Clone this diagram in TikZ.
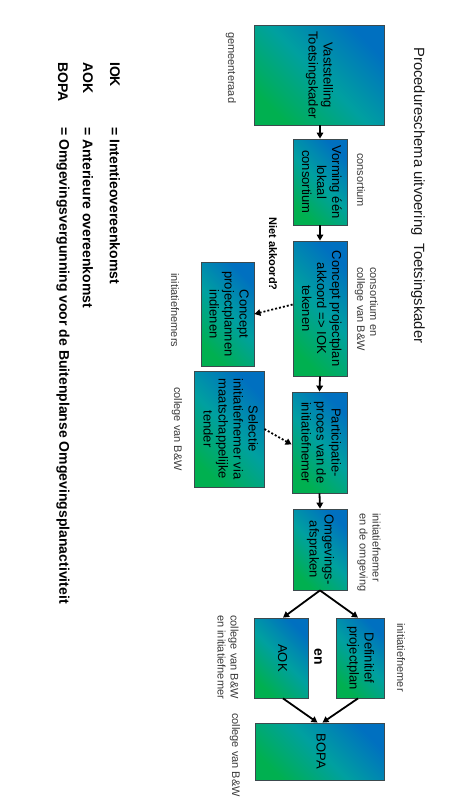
\documentclass[tikz,border=0pt]{standalone}
\usepackage{fontspec}
\setmainfont{Liberation Sans}
\usepackage{graphicx}
\usetikzlibrary{arrows.meta}
\definecolor{gblue}{HTML}{0070C0}
\definecolor{gteal}{HTML}{00A0A0}
\definecolor{ggreen}{HTML}{00B050}
\definecolor{boxline}{HTML}{3C4A4E}
\definecolor{lblc}{HTML}{3A3A3A}
\definecolor{titc}{HTML}{1A1A1A}
\newcommand\rtext[1]{\rotatebox[origin=c]{-90}{\begin{tabular}{@{}c@{}}#1\end{tabular}}}
\tikzset{
  box/.style={draw=boxline, line width=0.8pt, inner sep=0pt,
    top color=gblue, bottom color=ggreen, middle color=gteal, shading angle=-45,
    font=\fontsize{13}{15}\selectfont},
  lbl/.style={rotate=-90, anchor=west, inner sep=0pt, text=lblc, align=left,
    font=\fontsize{11}{13}\selectfont},
  leg/.style={rotate=-90, anchor=west, inner sep=0pt, text=black,
    font=\bfseries\fontsize{14}{16}\selectfont},
  arr/.style={line width=1.8pt, -{Triangle[length=6pt,width=6.5pt]}},
  dotarr/.style={line width=1.8pt, dash pattern=on 2pt off 2pt, -{Triangle[length=6pt,width=6.5pt]}}
}
\begin{document}
\begin{tikzpicture}[x=1pt,y=-1pt]
\useasboundingbox (0,0) rectangle (451,806);
% title
\node[rotate=-90, anchor=west, inner sep=0pt, text=titc, font=\fontsize{14.8}{17}\selectfont] (title) at (418,47) {Procedureschema uitvoering\ \ Toetsingskader};
% boxes
\node[box, minimum width=130pt, minimum height=100pt] (vast) at (319,75) {\rtext{Vaststelling\\Toetsingskader}};
\node[box, minimum width=54pt, minimum height=86pt] (vorm) at (320,182) {\rtext{Vorming één\\lokaal\\consortium}};
\node[box, minimum width=54pt, minimum height=135pt] (conc) at (320,308.5) {\rtext{Concept projectplan\\akkoord => IOK\\tekenen}};
\node[box, minimum width=53pt, minimum height=104pt] (indi) at (227.5,314) {\rtext{Concept\\projectplannen\\indienen}};
\node[box, minimum width=70pt, minimum height=116pt] (sel) at (229,429) {\rtext{Selectie\\initiatiefnemer via\\maatschappelijke\\tender}};
\node[box, minimum width=55pt, minimum height=101pt] (part) at (319.5,442.5) {\rtext{Participatie-\\proces van de\\initiatiefnemer}};
\node[box, minimum width=54pt, minimum height=81pt] (omg) at (320,549.5) {\rtext{Omgevings-\\afspraken}};
\node[box, minimum width=54pt, minimum height=80pt] (aok) at (281,658) {\rtext{AOK}};
\node[box, minimum width=48pt, minimum height=80pt] (def) at (360,658) {\rtext{Definitief\\projectplan}};
\node[box, minimum width=129pt, minimum height=57pt] (bopa) at (319.5,751.5) {\rtext{BOPA}};
% labels
\node[lbl] (l1) at (231,32) {gemeenteraad};
\node[lbl] (l2) at (361,153) {consortium};
\node[lbl] (l3) at (366.5,267) {consortium en\\college van B\&W};
\node[lbl] (l4) at (175,273) {initiatiefnemers};
\node[lbl] (l5) at (177,387) {college van B\&W};
\node[lbl] (l6) at (369,513) {initiatiefnemer\\en de omgeving};
\node[lbl] (l7) at (401,623) {initiatiefnemer};
\node[lbl] (l8) at (228,615) {college van B\&W\\en initiatiefnemer};
\node[lbl] (l9) at (235,713) {college van B\&W};
\node[rotate=-90, anchor=west, inner sep=0pt, font=\bfseries\fontsize{11}{13}\selectfont] (niet) at (273,217) {Niet akkoord?};
\node[rotate=-90, inner sep=0pt, font=\bfseries\fontsize{14}{16}\selectfont] (en) at (318,657) {en};
% legend
\node[leg] (iok) at (115,62) {IOK};
\node[leg] (iokt) at (115,127) {= Intentieovereenkomst};
\node[leg] (aokl) at (88,62) {AOK};
\node[leg] (aokt) at (88,127) {= Anterieure overeenkomst};
\node[leg] (bopal) at (63,62) {BOPA};
\node[leg] (bopat) at (63,127) {= Omgevingsvergunning voor de Buitenplanse Omgevingsplanactiviteit};
% connectors
\draw[arr] (vorm.north |- vast.south) -- (vorm.north);
\draw[arr] (vorm.south) -- (conc.north);
\draw[arr] (conc.south) -- (part.north);
\draw[arr] (part.south) -- (omg.north);
\draw[arr] (omg.south) -- ([xshift=2pt]aok.north);
\draw[arr] (omg.south) -- ([xshift=-2pt]def.north);
\draw[arr] ([xshift=2pt]aok.south) -- ([xshift=-2pt]bopa.north);
\draw[arr] ([xshift=-2pt]def.south) -- ([xshift=3pt]bopa.north);
\draw[dotarr] ([yshift=4pt]conc.west) -- (indi.east);
\draw[dotarr] (sel.east) -- ([yshift=-2pt]part.west);
\end{tikzpicture}
\end{document}
